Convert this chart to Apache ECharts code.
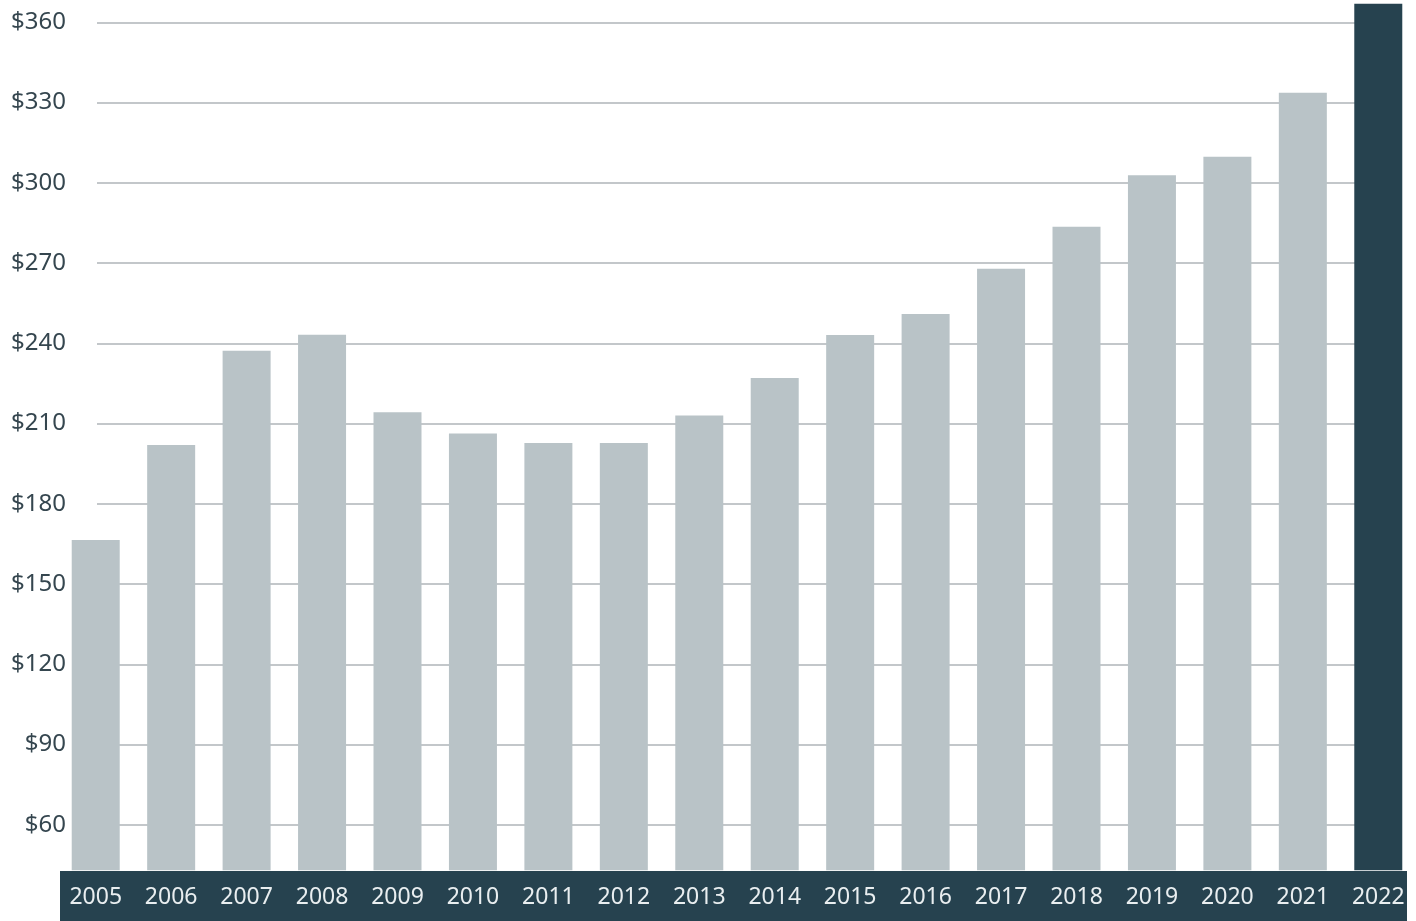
<!DOCTYPE html>
<html>
<head>
<meta charset="utf-8">
<script src="https://cdn.jsdelivr.net/npm/echarts@6/dist/echarts.min.js"></script>
<style>
html,body{margin:0;padding:0;background:#fff;}
#chart{width:1416px;height:921px;}
</style>
</head>
<body>
<div id="chart"></div>
<script>
const categories = ['2005','2006','2007','2008','2009','2010','2011','2012','2013','2014','2015','2016','2017','2018','2019','2020','2021','2022'];
const values = [166.5, 202, 237.2, 243.2, 214.2, 206.3, 202.7, 202.7, 213, 227, 243.1, 251, 267.9, 283.6, 302.8, 309.8, 333.7, 367];
const highlightIndex = 17;
const yTickMin = 60;
const yTickMax = 360;
const yTickStep = 30;

const GRAY = '#b9c3c7';
const DARK = '#26424f';

const chart = echarts.init(document.getElementById('chart'), null, {renderer: 'canvas'});
const option = {
  backgroundColor: '#ffffff',
  animation: false,
  textStyle: {fontFamily: 'Noto Sans'},
  graphic: [{
    type: 'rect',
    z: 1,
    shape: {x: 60, y: 871, width: 1347, height: 50},
    style: {fill: DARK}
  }],
  grid: [
    {left: 58, right: 0, top: 1, bottom: 50.8},
    {left: 97, right: 14, top: 22.25, bottom: 96.25}
  ],
  xAxis: [
    {
      type: 'category', gridIndex: 0, data: categories, z: 10,
      axisLine: {show: false}, axisTick: {show: false},
      axisLabel: {color: '#e9eef0', fontSize: 23, margin: 16, fontFamily: 'Noto Sans'}
    },
    {type: 'value', gridIndex: 1, show: false}
  ],
  yAxis: [
    {type: 'value', gridIndex: 0, min: 43, max: 368, show: false, splitLine: {show: false}},
    {
      type: 'value', gridIndex: 1, min: yTickMin, max: yTickMax, interval: yTickStep,
      axisLine: {show: false}, axisTick: {show: false},
      splitLine: {show: true, lineStyle: {color: '#c3c7ca', width: 2}},
      axisLabel: {color: '#35464f', fontSize: 24, margin: 31, fontFamily: 'Noto Sans',
        formatter: v => '$' + v}
    }
  ],
  series: [{
    type: 'bar',
    xAxisIndex: 0, yAxisIndex: 0,
    barWidth: 48,
    data: values.map((v, i) => ({value: v, itemStyle: {color: i === highlightIndex ? DARK : GRAY}})),
    itemStyle: {color: GRAY}
  }]
};
chart.setOption(option);
</script>
</body>
</html>
